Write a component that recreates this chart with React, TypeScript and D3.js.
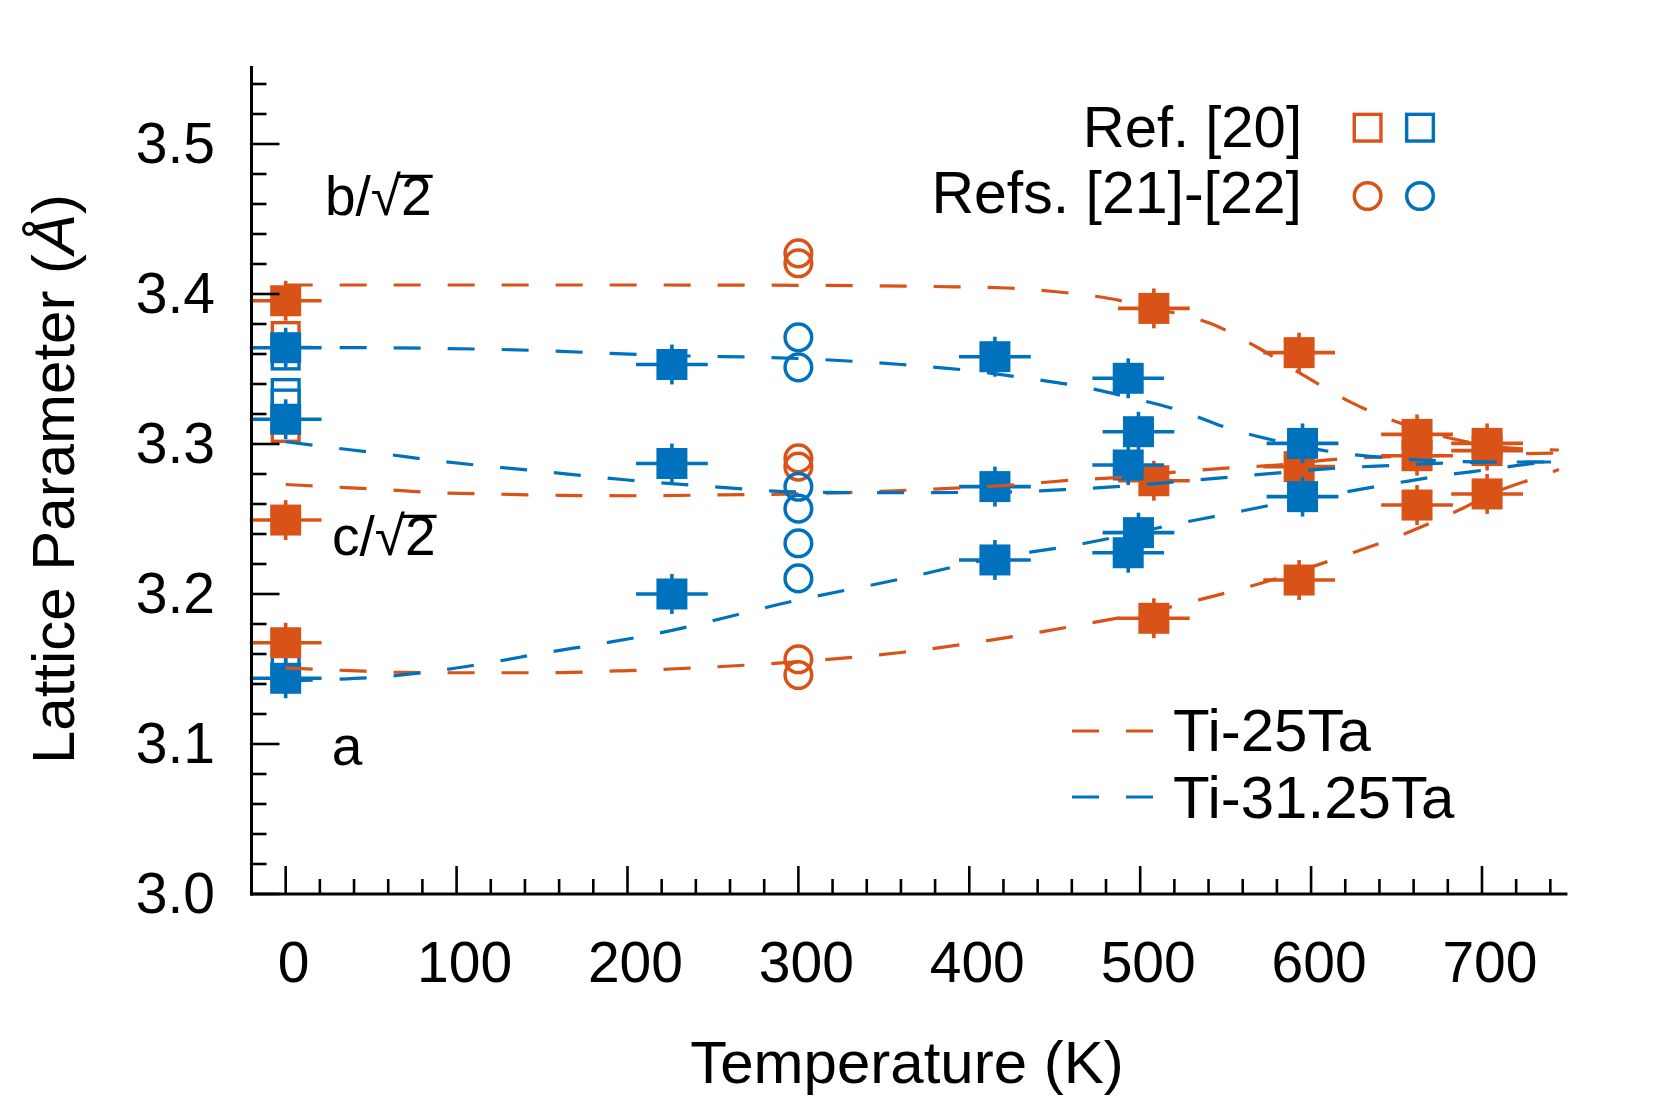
import React, { useLayoutEffect, useRef, useState } from 'react';
import * as d3 from 'd3';

const ORANGE = '#D95319';
const BLUE = '#0072BD';
const FONT = '"Liberation Sans", Arial, Helvetica, sans-serif';

// Axis ticks
const xMajorTicks = [0, 100, 200, 300, 400, 500, 600, 700];
const xMinorTicks = d3.range(0, 38).map((i) => i * 20);
const yMajorTicks = [3.0, 3.1, 3.2, 3.3, 3.4, 3.5];
const yMinorTicks = d3.range(0, 28).map((i) => 3 + i * 0.02);

// Fitted trend curves [T (K), lattice parameter (Å)]
const fitTi25_b: [number, number][] = [
  [0, 3.406], [100, 3.406], [200, 3.406], [300, 3.4058], [380, 3.405], [422, 3.404],
  [451, 3.4015], [482, 3.397], [512, 3.3895], [542, 3.38], [570, 3.3635], [597, 3.3449],
  [624, 3.3274], [652, 3.314], [681, 3.304], [715, 3.2975], [745, 3.296],
];
const fitTi25_c: [number, number][] = [
  [0, 3.273], [24, 3.2716], [55, 3.2698], [86, 3.2676], [118, 3.2667], [160, 3.2658],
  [200, 3.2655], [250, 3.266], [300, 3.2667], [360, 3.269], [430, 3.2731], [461, 3.276],
  [492, 3.278], [523, 3.2815], [554, 3.2842], [580, 3.286], [617, 3.29], [680, 3.2925], [745, 3.294],
];
const fitTi25_a: [number, number][] = [
  [0, 3.1507], [38, 3.1489], [69, 3.1477], [100, 3.1475], [131, 3.1475], [162, 3.1476],
  [194, 3.1487], [225, 3.15], [300, 3.1549], [360, 3.161], [419, 3.1704], [443, 3.1749],
  [473, 3.1811], [505, 3.188], [534, 3.196], [565, 3.2053], [595, 3.216], [624, 3.2273],
  [653, 3.2393], [683, 3.254], [711, 3.2693], [738, 3.28], [745, 3.283],
];
const fitTi3125_b: [number, number][] = [
  [0, 3.3645], [122, 3.3631], [225, 3.359], [300, 3.357], [360, 3.353], [400, 3.349],
  [433, 3.344], [463, 3.3388], [494, 3.331], [524, 3.322], [553, 3.31], [584, 3.301],
  [615, 3.2943], [646, 3.2907], [677, 3.2887], [708, 3.288], [745, 3.288],
];
const fitTi3125_c: [number, number][] = [
  [0, 3.3015], [24, 3.298], [55, 3.2938], [85, 3.2893], [117, 3.2853], [141, 3.2827],
  [200, 3.276], [250, 3.2715], [300, 3.268], [360, 3.2675], [420, 3.268], [459, 3.2698],
  [491, 3.272], [522, 3.2749], [553, 3.278], [584, 3.2811], [615, 3.284], [646, 3.2856],
  [677, 3.2873], [708, 3.288], [745, 3.288],
];
const fitTi3125_a: [number, number][] = [
  [0, 3.142], [17, 3.1427], [58, 3.1449], [89, 3.1489], [120, 3.1544], [151, 3.1607],
  [182, 3.1664], [213, 3.1727], [300, 3.196], [360, 3.21], [419, 3.2249], [457, 3.2316],
  [487, 3.2382], [518, 3.246], [548, 3.2527], [580, 3.26], [610, 3.266], [640, 3.272],
  [671, 3.278], [703, 3.2829], [733, 3.2873], [745, 3.2885],
];

// Computed points (filled squares with error bars)
const ti25T = [0, 0, 0, 508, 508, 508, 593, 593, 593, 662, 662, 662, 703, 703, 703];
const ti25V = [3.3955, 3.2493, 3.1675, 3.3904, 3.2755, 3.1838, 3.3609, 3.2849, 3.2093, 3.3064, 3.2922, 3.2593, 3.3004, 3.2956, 3.2667];
const ti3125T = [0, 0, 0, 226, 226, 226, 415, 415, 415, 493, 499, 493, 499, 493, 595, 595];
const ti3125V = [3.3642, 3.3165, 3.1438, 3.353, 3.287, 3.2, 3.3582, 3.2716, 3.2227, 3.3438, 3.3082, 3.286, 3.2409, 3.2275, 3.3004, 3.2649];
const errT = 21;
const errV = 0.0133;

// Ref. [20] (open squares, 0 K)
const ref20OrangeT = [0, 0];
const ref20OrangeV = [3.372, 3.3107];
const ref20BlueT = [0, 0, 0, 0];
const ref20BlueV = [3.359, 3.334, 3.327, 3.1507];

// Refs. [21]-[22] (open circles, 300 K)
const ref21OrangeT = [300, 300, 300, 300, 300, 300];
const ref21OrangeV = [3.4271, 3.4205, 3.2904, 3.2849, 3.1565, 3.146];
const ref21BlueT = [300, 300, 300, 300, 300, 300];
const ref21BlueV = [3.3711, 3.3511, 3.2715, 3.2569, 3.2338, 3.2104];

const W = 1667;
const H = 1111;

type Bar = { x1: number; x2: number; y: number } | null;

function SqrtLabel({ x, y, prefix, size }: { x: number; y: number; prefix: string; size: number }) {
  const ref = useRef<SVGTextElement>(null);
  const [bar, setBar] = useState<Bar>(null);
  useLayoutEffect(() => {
    const el = ref.current;
    if (!el) return;
    try {
      const n = el.getNumberOfChars();
      const sqrtEnd = el.getEndPositionOfChar(n - 2).x;
      const twoEnd = el.getEndPositionOfChar(n - 1).x;
      setBar({ x1: sqrtEnd - 3, x2: twoEnd + 1, y: y - size * 0.73 + 1.5 });
    } catch (e) {
      /* ignore */
    }
  }, [x, y, size]);
  return (
    <g>
      <text ref={ref} x={x} y={y} fontSize={size} fill="#000">
        {prefix + '/√2'}
      </text>
      {bar && <line x1={bar.x1} x2={bar.x2} y1={bar.y} y2={bar.y} stroke="#000" strokeWidth={3.2} />}
    </g>
  );
}

export default function App() {
  const x = d3.scaleLinear().domain([-20, 750]).range([251.5, 251.5 + 770 * 1.709]);
  const y = d3.scaleLinear().domain([3.0, 3.552]).range([894, 66]);
  const x0 = x(-20);
  const y0 = y(3.0);

  const line = d3
    .line<[number, number]>()
    .x((d) => x(d[0]))
    .y((d) => y(d[1]))
    .curve(d3.curveMonotoneX);

  const fits = [
    { d: fitTi25_b, c: ORANGE },
    { d: fitTi25_c, c: ORANGE },
    { d: fitTi25_a, c: ORANGE },
    { d: fitTi3125_b, c: BLUE },
    { d: fitTi3125_c, c: BLUE },
    { d: fitTi3125_a, c: BLUE },
  ];

  const sq = 31;
  const osq = 26.7;
  const cr = 13.3;

  const filled = (T: number[], V: number[], color: string, key: string) =>
    T.map((t, i) => {
      const cx = x(t);
      const cy = y(V[i]);
      return (
        <g key={key + i}>
          <line x1={x(t - errT)} x2={x(t + errT)} y1={cy} y2={cy} stroke={color} strokeWidth={3.6} />
          <line x1={cx} x2={cx} y1={y(V[i] - errV)} y2={y(V[i] + errV)} stroke={color} strokeWidth={3.6} />
          <rect x={cx - sq / 2} y={cy - sq / 2} width={sq} height={sq} fill={color} />
        </g>
      );
    });

  const openSq = (T: number[], V: number[], color: string, key: string) =>
    T.map((t, i) => (
      <rect
        key={key + i}
        x={x(t) - osq / 2}
        y={y(V[i]) - osq / 2}
        width={osq}
        height={osq}
        fill="#ffffff"
        stroke={color}
        strokeWidth={3.4}
      />
    ));

  const openCirc = (T: number[], V: number[], color: string, key: string) =>
    T.map((t, i) => (
      <circle key={key + i} cx={x(t)} cy={y(V[i])} r={cr} fill="none" stroke={color} strokeWidth={3.5} />
    ));

  return (
    <svg
      width={W}
      height={H}
      viewBox={`0 0 ${W} ${H}`}
      style={{ position: 'absolute', left: 0, top: 0, display: 'block', background: '#fff' }}
      fontFamily={FONT}
    >
      <rect x={0} y={0} width={W} height={H} fill="#fff" />

      {/* open squares Ref. [20] */}
      {openSq(ref20OrangeT, ref20OrangeV, ORANGE, 'ro')}
      {openSq(ref20BlueT, ref20BlueV, BLUE, 'rb')}

      {/* filled computed points */}
      {filled(ti25T, ti25V, ORANGE, 'fo')}
      {filled(ti3125T, ti3125V, BLUE, 'fb')}

      {/* fit curves */}
      {fits.map((f, i) => (
        <path
          key={'fit' + i}
          d={line(f.d) || ''}
          fill="none"
          stroke={f.c}
          strokeWidth={3.2}
          strokeDasharray="27 27"
        />
      ))}

      {/* open circles Refs. [21]-[22] */}
      {openCirc(ref21OrangeT, ref21OrangeV, ORANGE, 'co')}
      {openCirc(ref21BlueT, ref21BlueV, BLUE, 'cb')}

      {/* axes */}
      <line x1={x0} x2={x0} y1={y0 + 1.5} y2={y(3.552)} stroke="#000" strokeWidth={3} />
      <line x1={x0 - 1.5} x2={x(750)} y1={y0} y2={y0} stroke="#000" strokeWidth={3} />
      {yMinorTicks.map((v, i) => (
        <line key={'yt' + i} x1={x0} x2={x0 + (i % 5 === 0 ? 28 : 15)} y1={y(v)} y2={y(v)} stroke="#000" strokeWidth={2.6} />
      ))}
      {xMinorTicks.map((t, i) => (
        <line key={'xt' + i} x1={x(t)} x2={x(t)} y1={y0} y2={y0 - (i % 5 === 0 ? 28 : 15)} stroke="#000" strokeWidth={2.6} />
      ))}
      {yMajorTicks.map((v) => (
        <text key={'yl' + v} x={215} y={y(v) + 19} fontSize={57} textAnchor="end" fill="#000">
          {v.toFixed(1)}
        </text>
      ))}
      {xMajorTicks.map((t) => (
        <text key={'xl' + t} x={x(t) + 8} y={982} fontSize={57} textAnchor="middle" fill="#000">
          {t}
        </text>
      ))}

      {/* axis titles */}
      <text x={907} y={1083} fontSize={60} textAnchor="middle" fill="#000">
        Temperature (K)
      </text>
      <text transform="translate(74,479) rotate(-90)" fontSize={60} textAnchor="middle" fill="#000">
        Lattice Parameter (<tspan fontStyle="italic">Å</tspan>)
      </text>

      {/* curve labels */}
      <SqrtLabel x={325} y={215} prefix="b" size={55} />
      <SqrtLabel x={332} y={555} prefix="c" size={55} />
      <text x={347} y={765} fontSize={55} textAnchor="middle" fill="#000">
        a
      </text>

      {/* marker legend */}
      <text x={1302} y={147} fontSize={58} textAnchor="end" fill="#000">
        Ref. [20]
      </text>
      <text x={1302} y={213} fontSize={59} textAnchor="end" fill="#000">
        Refs. [21]-[22]
      </text>
      <rect x={1367.6 - osq / 2} y={127.7 - osq / 2} width={osq} height={osq} fill="none" stroke={ORANGE} strokeWidth={3.4} />
      <rect x={1420 - osq / 2} y={127.7 - osq / 2} width={osq} height={osq} fill="none" stroke={BLUE} strokeWidth={3.4} />
      <circle cx={1367.6} cy={196} r={cr} fill="none" stroke={ORANGE} strokeWidth={3.5} />
      <circle cx={1420} cy={196} r={cr} fill="none" stroke={BLUE} strokeWidth={3.5} />

      {/* line legend */}
      <line x1={1072} x2={1153} y1={731} y2={731} stroke={ORANGE} strokeWidth={3.2} strokeDasharray="27 27" />
      <line x1={1072} x2={1153} y1={797} y2={797} stroke={BLUE} strokeWidth={3.2} strokeDasharray="27 27" />
      <text x={1173} y={751} fontSize={60} fill="#000">
        Ti-25Ta
      </text>
      <text x={1173} y={818} fontSize={60} fill="#000">
        Ti-31.25Ta
      </text>
    </svg>
  );
}
